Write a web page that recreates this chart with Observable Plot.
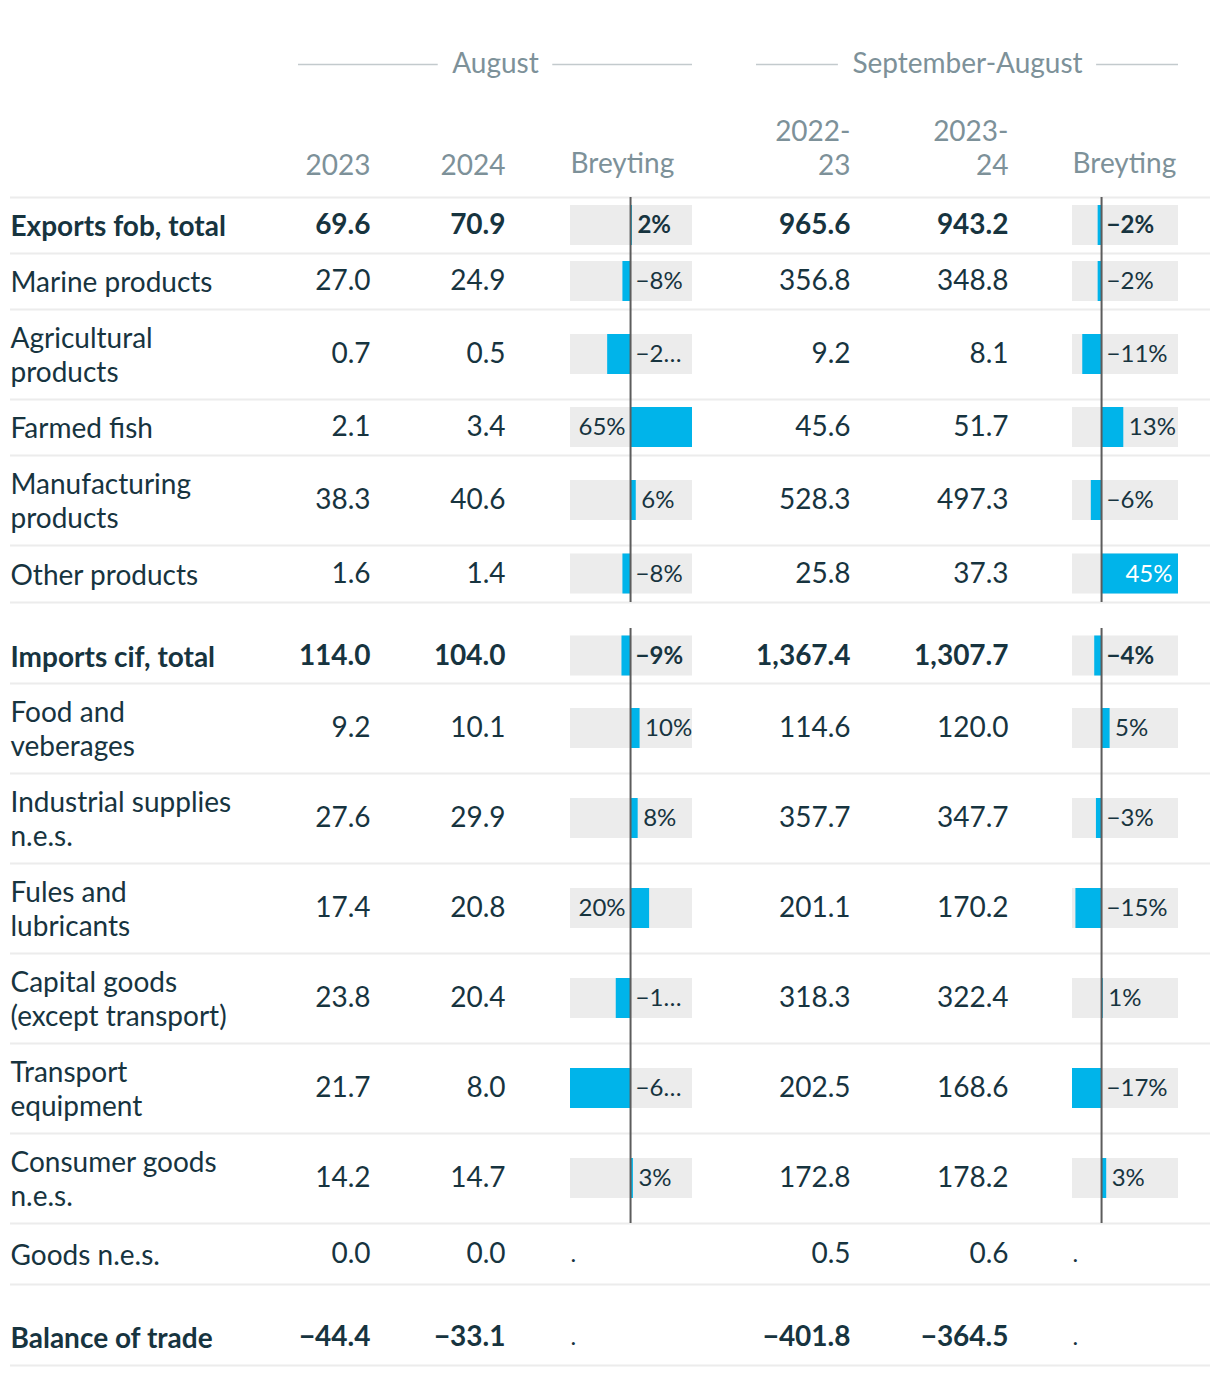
<!DOCTYPE html>
<html><head><meta charset="utf-8">
<script src="https://cdn.jsdelivr.net/npm/d3@7"></script>
<script src="https://cdn.jsdelivr.net/npm/@observablehq/plot@0.6"></script>
<style>
body{margin:0;background:#fff;}
#chart{position:relative;width:1220px;height:1376px;font-family:Lato,sans-serif;}
#chart svg{position:absolute;top:0;overflow:visible;}
</style></head><body><div id="chart"></div>
<script>
// ---------------- data ----------------
const categories = ["Exports fob, total","Marine products","Agricultural\nproducts","Farmed fish","Manufacturing\nproducts","Other products","Imports cif, total","Food and\nveberages","Industrial supplies\nn.e.s.","Fules and\nlubricants","Capital goods\n(except transport)","Transport\nequipment","Consumer goods\nn.e.s.","Goods n.e.s.","Balance of trade"];
const boldRows = ["Exports fob, total","Imports cif, total","Balance of trade"];
const aug2023 = [69.6, 27.0, 0.7, 2.1, 38.3, 1.6, 114.0, 9.2, 27.6, 17.4, 23.8, 21.7, 14.2, 0.0, -44.4];
const aug2024 = [70.9, 24.9, 0.5, 3.4, 40.6, 1.4, 104.0, 10.1, 29.9, 20.8, 20.4, 8.0, 14.7, 0.0, -33.1];
const augChange = [2, -8, -24, 65, 6, -8, -9, 10, 8, 20, -15, -63, 3, null, null];
const sepAug2223 = [965.6, 356.8, 9.2, 45.6, 528.3, 25.8, 1367.4, 114.6, 357.7, 201.1, 318.3, 202.5, 172.8, 0.5, -401.8];
const sepAug2324 = [943.2, 348.8, 8.1, 51.7, 497.3, 37.3, 1307.7, 120.0, 347.7, 170.2, 322.4, 168.6, 178.2, 0.6, -364.5];
const sepAugChange = [-2, -2, -11, 13, -6, 45, -4, 5, -3, -15, 1, -17, 3, null, null];
const groupHeaders = ["August", "September-August"];
const columnHeaders = ["2023", "2024", "Breyting", "2022-\n23", "2023-\n24", "Breyting"];

// ---------------- layout & style ----------------
const W = 1220, H = 1376;
const FS = 28, LFS = 24;
const dark = "#17343f", grey = "#7d9199", blue = "#00b4ea", cellBg = "#ececec";
const rowHeights = [56,56,90,56,90,57,55,90,90,90,90,90,90,61,56];
const gapBefore = {6: 26, 14: 25};
const tableTop = 197, tableLeft = 10, tableRight = 1210;
const numCols = [370, 505, null, 850, 1008, null];   // right edges of number columns
const barCols = [{left: 570, width: 122}, {left: 1072, width: 106}];
const groupSpans = [[298, 692], [756, 1178]];

const ctx = document.createElement("canvas").getContext("2d");
function tw(s, size, bold) { ctx.font = `${bold ? "bold " : ""}${size}px Lato`; return ctx.measureText(s).width; }

let yCur = tableTop, section = 0;
const rows = categories.map((label, i) => {
  if (gapBefore[i]) { yCur += gapBefore[i]; section++; }
  const r = {i, label, bold: boldRows.includes(label), top: yCur, bottom: yCur + rowHeights[i], section};
  r.mid = (r.top + r.bottom) / 2;
  yCur = r.bottom;
  return r;
});

const fmtNum = d3.format(",.1f");
const fmtPct = v => d3.format(".0f")(v) + "%";
const style = {fontFamily: "Lato, sans-serif", background: "transparent", overflow: "visible"};

// ---------------- main table plot ----------------
const sepYs = [tableTop, ...rows.map(r => r.bottom)];
const groups = groupHeaders.map((name, k) => {
  const [a, b] = groupSpans[k], mid = (a + b) / 2, w = tw(name, FS, false);
  return {name, a, b, mid, l: mid - w / 2 - 14, r: mid + w / 2 + 14};
});
const colXs = [numCols[0], numCols[1], barCols[0].left, numCols[3], numCols[4], barCols[1].left];
const heads = columnHeaders.map((t, k) => ({t, x: colXs[k], anchor: t === "Breyting" ? "start" : "end", lines: t.split("\n").length}));

const numberMarks = [];
[[aug2023, 0], [aug2024, 1], [sepAug2223, 3], [sepAug2324, 4]].forEach(([vals, k]) => {
  [true, false].forEach(b => {
    numberMarks.push(Plot.text(rows.filter(r => r.bold === b), {
      x: numCols[k], y: "mid", text: r => fmtNum(vals[r.i]), textAnchor: "end",
      fontSize: FS, fill: dark, fontWeight: b ? "bold" : "normal"
    }));
  });
});

const main = Plot.plot({
  width: W, height: H, margin: 0,
  x: {type: "identity", axis: null}, y: {type: "identity", axis: null},
  style,
  marks: [
    Plot.ruleY(sepYs, {y: d => d, x1: tableLeft, x2: tableRight, stroke: cellBg, strokeWidth: 2}),
    Plot.ruleY(groups, {y: 64, x1: "a", x2: "l", stroke: "#c3cacd", strokeWidth: 1.5}),
    Plot.ruleY(groups, {y: 64, x1: "r", x2: "b", stroke: "#c3cacd", strokeWidth: 1.5}),
    Plot.text(groups, {x: "mid", y: 64, text: "name", fontSize: FS, fill: grey}),
    Plot.text(heads.filter(h => h.anchor === "end"), {x: "x", y: h => 164 - (h.lines - 1) * 17, text: "t", textAnchor: "end", fontSize: FS, fill: grey, lineHeight: 34/FS}),
    Plot.text(heads.filter(h => h.anchor === "start"), {x: "x", y: 164, text: "t", textAnchor: "start", fontSize: FS, fill: grey}),
    Plot.text(rows.filter(r => r.bold), {x: tableLeft, y: "mid", text: "label", textAnchor: "start", fontSize: FS, fill: dark, fontWeight: "bold", lineHeight: 34/FS}),
    Plot.text(rows.filter(r => !r.bold), {x: tableLeft, y: "mid", text: "label", textAnchor: "start", fontSize: FS, fill: dark, lineHeight: 34/FS}),
    ...numberMarks
  ]
});
document.getElementById("chart").append(main);

// ---------------- bar columns ----------------
function barPlot(values, width) {
  const items = rows.filter(r => values[r.i] != null).map(r => ({...r, v: values[r.i]}));
  const dots = rows.filter(r => values[r.i] == null);
  const domain = [Math.min(0, d3.min(items, d => d.v)), Math.max(0, d3.max(items, d => d.v))];
  const sx = Plot.scale({x: {domain, range: [0, width]}});
  const z = sx.apply(0);
  const labs = items.map(d => {
    let text = fmtPct(d.v);
    const w = tw(text, LFS, d.bold), e = sx.apply(d.v);
    if (d.v >= 0) {
      if (e + 5 + w <= width + 4) return {...d, text, kind: "after"};
      if (z - 5 - w >= 0) return {...d, text, kind: "left"};
      return {...d, text, kind: "inside"};
    }
    const avail = width - z - 5;
    if (w > avail) {
      while (text.length > 1 && tw(text + "…", LFS, d.bold) > avail) text = text.slice(0, -1);
      text += "…";
    }
    return {...d, text, kind: "neg"};
  });
  const zero = d3.groups(items, d => d.section).map(([s, a]) => ({y1: a[0].top, y2: a[a.length - 1].bottom}));
  const kinds = {
    after: {x: "v", dx: 5, textAnchor: "start", fill: dark},
    left: {x: () => 0, dx: -5, textAnchor: "end", fill: dark},
    inside: {x: "v", dx: -6, textAnchor: "end", fill: "#fff"},
    neg: {x: () => 0, dx: 5, textAnchor: "start", fill: dark}
  };
  const labelMarks = [];
  for (const k of Object.keys(kinds)) for (const b of [true, false]) {
    const sub = labs.filter(l => l.kind === k && l.bold === b);
    if (sub.length) labelMarks.push(Plot.text(sub, {...kinds[k], y: "mid", text: "text", fontSize: LFS, fontWeight: b ? "bold" : "normal"}));
  }
  return Plot.plot({
    width, height: H, margin: 0,
    x: {domain, range: [0, width], axis: null},
    y: {type: "identity", axis: null},
    style,
    marks: [
      Plot.rect(items, {x1: () => domain[0], x2: () => domain[1], y1: d => d.mid - 20, y2: d => d.mid + 20, fill: cellBg}),
      Plot.rect(items, {x1: () => 0, x2: "v", y1: d => d.mid - 20, y2: d => d.mid + 20, fill: blue}),
      Plot.ruleX(zero, {x: () => 0, y1: "y1", y2: "y2", stroke: "#5c5c5c", strokeWidth: 2}),
      ...labelMarks,
      Plot.text(dots, {x: () => domain[0], y: "mid", text: () => ".", textAnchor: "start", fontSize: LFS, fill: dark})
    ]
  });
}
[[augChange, barCols[0]], [sepAugChange, barCols[1]]].forEach(([vals, col]) => {
  const svg = barPlot(vals, col.width);
  svg.style.left = col.left + "px";
  document.getElementById("chart").append(svg);
});
</script></body></html>
